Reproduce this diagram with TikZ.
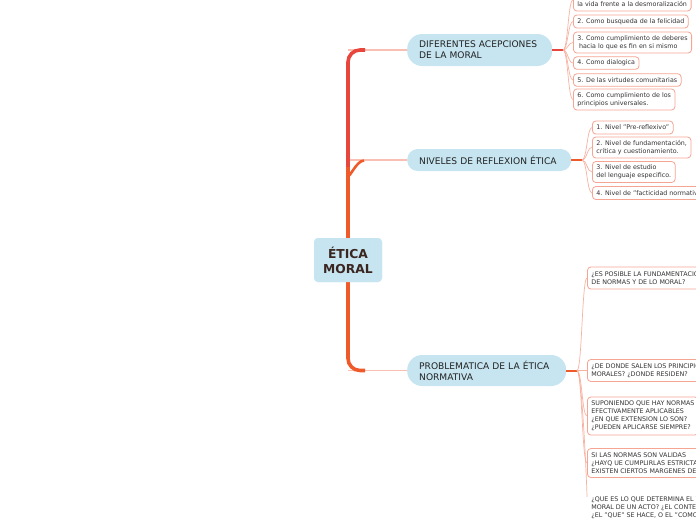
\documentclass[tikz,border=0pt]{standalone}
\usepackage{fontspec}
\setmainfont{DejaVu Sans}
\definecolor{nodeblue}{HTML}{C6E5F0}
\definecolor{leafborder}{HTML}{F5A593}
\definecolor{fanline}{HTML}{F7B2A2}
\definecolor{branchthin}{HTML}{F9BFB2}
\definecolor{trunkA}{HTML}{E8463C}
\definecolor{trunkC}{HTML}{EF5A2A}
\definecolor{leaftext}{HTML}{333333}
\definecolor{maintext}{HTML}{222222}
\definecolor{centertext}{HTML}{3A2520}
\begin{document}
\begin{tikzpicture}[x=1pt,y=-1pt,
  centerbox/.style={fill=nodeblue, rounded corners=4pt, font=\fontsize{12.3}{15}\selectfont\bfseries,
    text=centertext, align=center, minimum width=68pt, minimum height=44pt, inner sep=2pt},
  mainbox/.style={fill=nodeblue, font=\fontsize{9.1}{11}\selectfont, text=maintext, align=left,
    inner xsep=12pt, inner ysep=2pt, anchor=west},
  leafbox/.style={draw=leafborder, fill=white, line width=0.8pt, rounded corners=3.5pt,
    font=\fontsize{6.35}{8}\selectfont, text=leaftext, align=left, inner xsep=4pt, inner ysep=2pt, anchor=west},
  trunkline/.style={line width=3.6pt, rounded corners=12pt},
  thinbranch/.style={draw=branchthin, line width=1.4pt},
  hubline/.style={line width=2pt},
  fan/.style={draw=fanline, line width=0.7pt}
]
\useasboundingbox (0,0) rectangle (696,520);
\clip (0,0) rectangle (696,520);

% center and main nodes
\node[centerbox] (c) at (348,260) {ÉTICA\\MORAL};
\node[mainbox, text width=121pt, minimum height=32pt, rounded corners=15pt] (n1) at (407,50) {DIFERENTES ACEPCIONES\\DE LA MORAL};
\node[mainbox, text width=140pt, minimum height=22pt, rounded corners=10.5pt] (n2) at (407,160) {NIVELES DE REFLEXION ÉTICA};
\node[mainbox, text width=135pt, minimum height=31pt, rounded corners=15pt] (n3) at (407,370.5) {PROBLEMATICA DE LA ÉTICA\\NORMATIVA};

% trunk and branches
\draw[thinbranch] (c.north |- n1.west) -- (n1.west);
\draw[thinbranch] (c.north |- n2.west) -- (n2.west);
\draw[thinbranch] (c.south |- n3.west) -- (n3.west);
\draw[trunkline, draw=trunkA] (c.north) -- (c.north |- n1.west) -- ++(17,0);
\draw[line width=3.6pt, draw=trunkC] (c.north) -- ++(0,-71);
\draw[line width=2.6pt, draw=trunkC] (348,174) to[out=-90,in=180] (364,160.5);
\draw[trunkline, draw=trunkC] (c.south) -- (c.south |- n3.west) -- ++(17,0);
\node[centerbox] at (c) {ÉTICA\\MORAL};

% hubs
\coordinate (f1) at (563,50);
\coordinate (f2) at (582,160);
\coordinate (f3) at (577,370.5);
\draw[hubline, draw=trunkA] (n1.east) -- (f1);
\draw[hubline, draw=trunkC] (n2.east) -- (f2);
\draw[hubline, draw=trunkC] (n3.east) -- (f3);

% leaves of n1
\node[leafbox, minimum height=22pt] (l1a) at (573,0) {1. Como capacidad para enfrentar\\la vida frente a la desmoralización};
\node[leafbox, minimum height=13pt] (l1b) at (573,21.5) {2. Como busqueda de la felicidad};
\node[leafbox, minimum height=21pt] (l1c) at (573,42.5) {3. Como cumplimiento de deberes\\\hspace*{1.6pt}hacia lo que es fin en si mismo};
\node[leafbox, minimum height=12.5pt] (l1d) at (573,63) {4. Como dialogica};
\node[leafbox, minimum height=12.5pt] (l1e) at (573,80) {5. De las virtudes comunitarias};
\node[leafbox, minimum height=21pt] (l1f) at (573,99.5) {6. Como cumplimiento de los\\principios universales.};

% leaves of n2
\node[leafbox, minimum height=13pt] (l2a) at (592,127.5) {1. Nivel "Pre-reflexivo"};
\node[leafbox, minimum height=21pt] (l2b) at (592,147.5) {2. Nivel de fundamentación,\\crítica y cuestionamiento.};
\node[leafbox, minimum height=21pt] (l2c) at (592,172) {3. Nivel de estudio\\del lenguaje especifico.};
\node[leafbox, minimum height=13pt] (l2d) at (592,193) {4. Nivel de "facticidad normativa"};

% leaves of n3
\node[leafbox, minimum height=22pt] (l3a) at (587,278) {¿ES POSIBLE LA FUNDAMENTACIÓN\\DE NORMAS Y DE LO MORAL?};
\node[leafbox, minimum height=22pt] (l3b) at (587,370.5) {¿DE DONDE SALEN LOS PRINCIPIOS\\MORALES? ¿DONDE RESIDEN?};
\node[leafbox, minimum height=38pt] (l3c) at (587,416) {SUPONIENDO QUE HAY NORMAS\\EFECTIVAMENTE APLICABLES\\¿EN QUE EXTENSION LO SON?\\¿PUEDEN APLICARSE SIEMPRE?};
\node[leafbox, minimum height=29pt] (l3d) at (587,463) {SI LAS NORMAS SON VALIDAS\\¿HAYQ UE CUMPLIRLAS ESTRICTAMENTE O\\EXISTEN CIERTOS MARGENES DE APLICACIÓN?};
\node[leafbox, draw=none, anchor=north west] (l3e) at (587,494) {¿QUE ES LO QUE DETERMINA EL VALOR\\MORAL DE UN ACTO? ¿EL CONTENIDO\\¿EL "QUE" SE HACE, O EL "COMO"?};

% fan connectors
\foreach \l in {l1a,l1b,l1c,l1d,l1e,l1f}
  \draw[fan] (f1) .. controls +(5,0) and +(-5,0) .. (\l.west);
\foreach \l in {l2a,l2b,l2c,l2d}
  \draw[fan] (f2) .. controls +(5,0) and +(-5,0) .. (\l.west);
\foreach \l in {l3a,l3b,l3c,l3d}
  \draw[fan] (f3) .. controls +(5,0) and +(-5,0) .. (\l.west);
\draw[fan] (f3) .. controls +(5,0) and +(0,-8) .. ([yshift=-3pt]l3e.north west);
\end{tikzpicture}
\end{document}
